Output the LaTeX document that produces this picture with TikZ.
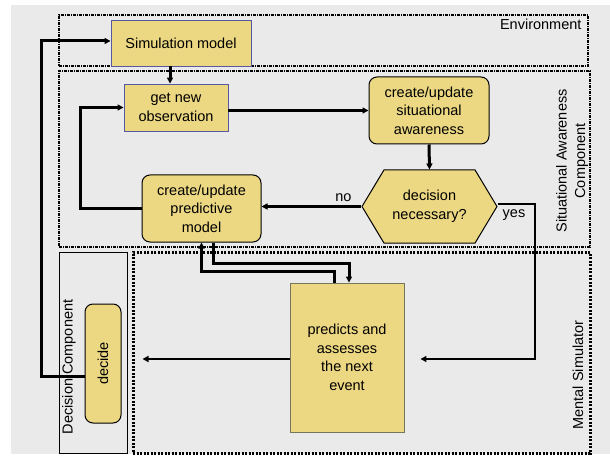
\documentclass[tikz,border=0pt]{standalone}
\usepackage{fontspec}
\setmainfont{Liberation Sans}
\usetikzlibrary{arrows.meta,shapes.symbols}
\definecolor{PanelGray}{RGB}{234,234,234}
\definecolor{BoxYellow}{RGB}{236,216,130}
\definecolor{EdgeBlue}{RGB}{88,88,160}
\definecolor{EdgeOlive}{RGB}{120,118,90}

\begin{document}
\begin{tikzpicture}[
    x=1pt, y=-1pt,
    txt/.style={font=\fontsize{14.5}{18.5}\selectfont, align=center, inner sep=0pt},
    box/.style={txt, draw=EdgeBlue, line width=0.9pt, fill=BoxYellow},
    rbox/.style={txt, draw=black, line width=1pt, fill=BoxYellow, rounded corners=8pt},
    zone/.style={draw, line width=1.3pt, dash pattern=on 3pt off 1pt on 1pt off 1pt, inner sep=0pt},
    arr/.style={-{Triangle[length=6pt,width=6pt]}, line width=3pt},
    thinarr/.style={-{Triangle[length=6pt,width=6pt]}, line width=2pt}
]
    \useasboundingbox (0,0) rectangle (610,457);
    \fill[PanelGray] (11,5) rectangle (610,454);

    % containers
    \node[zone, minimum width=529pt, minimum height=51pt] (env) at (323.5,40.5) {};
    \node[zone, minimum width=531pt, minimum height=176pt] (sacomp) at (324.5,159) {};
    \node[draw, line width=1pt, inner sep=0pt, minimum width=68pt, minimum height=201pt] (deccomp) at (93,352.5) {};
    \node[draw, line width=3pt, dash pattern=on 2pt off 1.5pt, inner sep=0pt,
          minimum width=457pt, minimum height=201pt] (mentsim) at (361.5,352.5) {};

    \node[txt, anchor=north east] (envlbl) at ([xshift=-7pt,yshift=-4pt]env.north east) {Environment};
    \node[txt, rotate=90] (salbl) at (572,161) {Situational Awareness\\Component};
    \node[txt, rotate=90] (declbl) at (69,367) {Decision Component};
    \node[txt, rotate=90] (mslbl) at (578,375) {Mental Simulator};

    % boxes
    \node[box, minimum width=140pt, minimum height=46pt] (sim) at (181,43) {Simulation model};
    \node[box, minimum width=104pt, minimum height=47pt] (obs) at (176,107.5) {get new\\observation};
    \node[rbox, minimum width=120pt, minimum height=67pt] (sa) at (429,110.5) {create/update\\situational\\awareness};
    \node[txt, shape=signal, signal to=east and west, signal pointer angle=118, draw=black,
          line width=1pt, fill=BoxYellow, minimum width=135pt, minimum height=73pt] (dec) at (429.5,206.5) {decision\\necessary?};
    \node[rbox, minimum width=119pt, minimum height=67pt] (pred) at (201.5,208.5) {create/update\\predictive\\model};
    \node[rbox, minimum width=36pt, minimum height=119pt] (decide) at (103,363.5) {};
    \node[txt, rotate=90] (decidetxt) at (decide.center) {decide};
    \node[box, draw=EdgeOlive, minimum width=114pt, minimum height=149pt] (ev) at (347,357.5) {predicts and\\assesses\\the next\\event};

    % connectors
    \draw[arr] ([xshift=-11pt]sim.south) -- ([xshift=-6pt]obs.north);
    \draw[arr] (obs.east |- sa.west) -- (sa.west);
    \draw[arr] (sa.south) -- (dec.north);
    \draw[arr] (dec.west) -- (dec.west -| pred.east) node[txt, pos=0.18, above=3pt] (nolbl) {no};
    \draw[arr] (pred.west) -- ++(-61,0) |- (obs.west);
    \draw[thinarr, shorten >=16pt] ([yshift=2pt]dec.east) -- ++(37,0) |- ([yshift=-1.5pt]ev.east);
    \node[txt] (yeslbl) at (514,215) {yes};
    \draw[thinarr, shorten >=21pt] ([yshift=-1.5pt]ev.west) -- ([yshift=-1.5pt]ev.west -| decide.east);
    \draw[arr] ([yshift=-12.5pt]decide.west) -- ++(-43,0) |- ([yshift=2pt]sim.west);
    \draw[arr] ([xshift=11.5pt]pred.south) -- ++(0,21) -| ([xshift=2pt]ev.north);
    \draw[arr] ([xshift=-13pt]ev.north) -- ++(0,-11) -| (pred.south);
\end{tikzpicture}
\end{document}
